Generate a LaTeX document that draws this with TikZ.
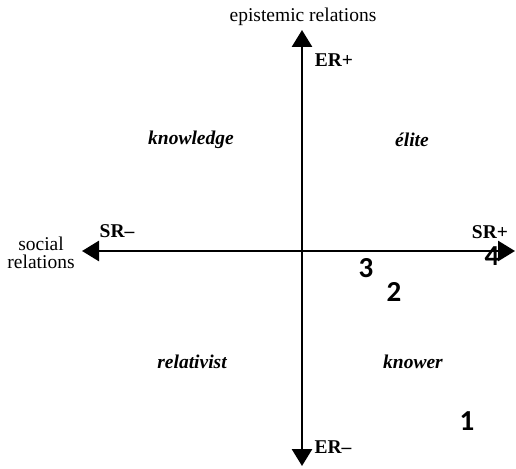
\documentclass[tikz,border=0pt]{standalone}
\usepackage{fontspec}
\setmainfont{Liberation Serif}
\newfontfamily\numfont{Carlito}
\usepackage{tikz}
\usetikzlibrary{arrows.meta}
\tikzset{
  axisline/.style={line width=2.8pt, {Triangle[width=20pt,length=17pt]}-{Triangle[width=20pt,length=17pt]}},
  axislabel/.style={font=\fontsize{19.5}{18}\selectfont, align=center, inner sep=0pt},
  pole/.style={font=\fontsize{19.5}{19}\selectfont\bfseries, inner sep=0pt},
  quadrant/.style={font=\fontsize{19.5}{19}\selectfont\bfseries\itshape, inner sep=0pt},
  casenum/.style={font=\fontsize{29}{29}\selectfont\numfont\bfseries, inner sep=0pt}
}

\begin{document}
\begin{tikzpicture}[x=1pt, y=-1pt]
  \useasboundingbox (0,0) rectangle (516,468);
  % axes
  \coordinate (top) at (302,30);
  \coordinate (bot) at (302,466);
  \coordinate (left) at (82,251);
  \coordinate (right) at (515,251);
  \draw[axisline] (bot) -- (top);
  \draw[axisline] (left) -- (right);

  % axis names
  \node[axislabel, anchor=south] (ername) at (303,26) {epistemic relations};
  \node[axislabel] (srname) at (41,253) {social\\relations};

  % poles
  \node[pole] (erplus) at (334,60) {ER+};
  \node[pole] (erminus) at (333,447) {ER--};
  \node[pole] (srminus) at (117,231) {SR--};
  \node[pole] (srplus) at (490,232) {SR+};

  % codes
  \node[quadrant] (knowledge) at (191,140) {knowledge};
  \node[quadrant] (elite) at (412,140) {élite};
  \node[quadrant] (relativist) at (192,362) {relativist};
  \node[quadrant] (knower) at (413,362) {knower};

  % cases
  \node[casenum] (c1) at (467,421) {1};
  \node[casenum] (c2) at (394,292) {2};
  \node[casenum] (c3) at (366,268) {3};
  \node[casenum] (c4) at (492,256) {4};
\end{tikzpicture}
\end{document}
